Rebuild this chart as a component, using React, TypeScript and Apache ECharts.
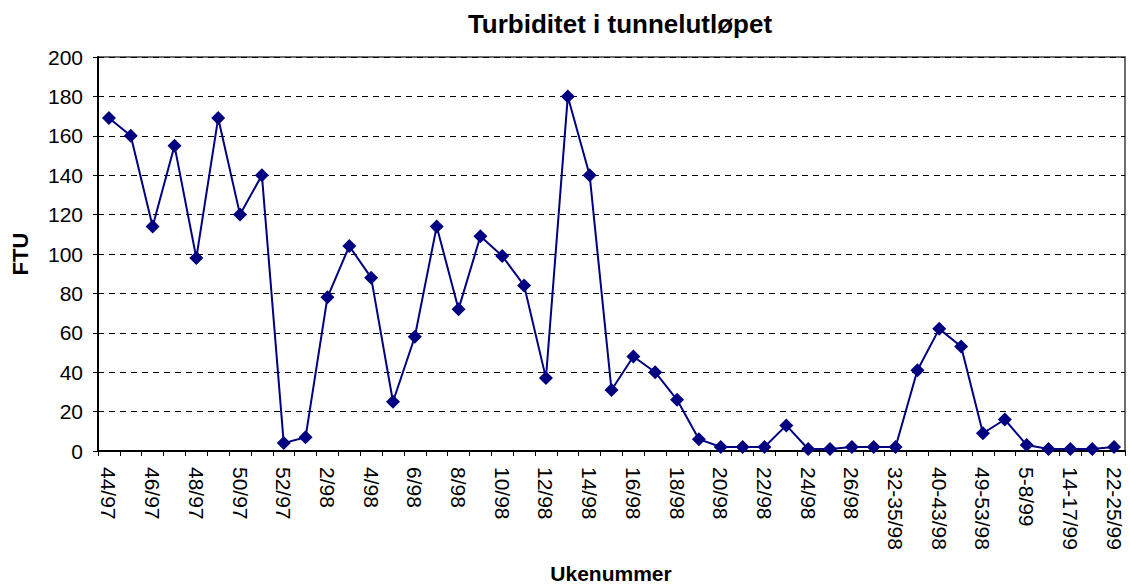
import React, { useEffect, useRef } from "react";
import * as echarts from "echarts";

const categories: string[] = [
  "44/97", "45/97", "46/97", "47/97", "48/97", "49/97", "50/97", "51/97", "52/97", "53/97",
  "2/98", "3/98", "4/98", "5/98", "6/98", "7/98", "8/98", "9/98", "10/98", "11/98",
  "12/98", "13/98", "14/98", "15/98", "16/98", "17/98", "18/98", "19/98", "20/98", "21/98",
  "22/98", "23/98", "24/98", "25/98", "26/98", "27-31/98", "32-35/98", "36-39/98", "40-43/98", "44-48/98",
  "49-53/98", "1-4/99", "5-8/99", "9-13/99", "14-17/99", "18-21/99", "22-25/99",
];

const ftu: number[] = [
  169, 160, 114, 155, 98, 169, 120, 140, 4, 7,
  78, 104, 88, 25, 58, 114, 72, 109, 99, 84,
  37, 180, 140, 31, 48, 40, 26, 6, 2, 2,
  2, 13, 1, 1, 2, 2, 2, 41, 62, 53,
  9, 16, 3, 1, 1, 1, 2,
];

const FONT = "'Liberation Sans', Arial, Helvetica, sans-serif";

export default function App() {
  const ref = useRef<HTMLDivElement>(null);
  useEffect(() => {
    document.body.style.margin = "0";
    if (!ref.current) return;
    const chart = echarts.init(ref.current, undefined, { renderer: "svg" });
    chart.setOption({
      animation: false,
      backgroundColor: "#ffffff",
      textStyle: { fontFamily: FONT },
      grid: {
        left: 98,
        right: 5,
        top: 57,
        bottom: 134,
        show: true,
        borderColor: "#404040",
        borderWidth: 1.5,
        backgroundColor: "transparent",
      },
      graphic: [
        {
          type: "text",
          x: 620,
          y: 23.5,
          style: {
            text: "Turbiditet i tunnelutløpet",
            font: `bold 26px ${FONT}`,
            fill: "#000",
            textAlign: "center",
            textVerticalAlign: "middle",
          },
        },
        {
          type: "text",
          x: 20,
          y: 254,
          rotation: Math.PI / 2,
          style: {
            text: "FTU",
            font: `bold 22px ${FONT}`,
            fill: "#000",
            textAlign: "center",
            textVerticalAlign: "middle",
          },
        },
        {
          type: "text",
          x: 611,
          y: 573.5,
          style: {
            text: "Ukenummer",
            font: `bold 21px ${FONT}`,
            fill: "#000",
            textAlign: "center",
            textVerticalAlign: "middle",
          },
        },
      ],
      xAxis: {
        type: "category",
        data: categories,
        boundaryGap: true,
        axisLine: { show: true, lineStyle: { color: "#000", width: 2 } },
        axisTick: { show: true, interval: 0, length: 5, lineStyle: { color: "#000", width: 1 } },
        axisLabel: {
          interval: 1,
          rotate: -90,
          margin: 16,
          color: "#000",
          fontSize: 21,
          fontFamily: FONT,
        },
        splitLine: { show: false },
      },
      yAxis: {
        type: "value",
        min: 0,
        max: 200,
        interval: 20,
        axisLine: { show: true, lineStyle: { color: "#000", width: 2 } },
        axisTick: { show: true, length: 5, lineStyle: { color: "#000", width: 1 } },
        axisLabel: { margin: 15, color: "#000", fontSize: 21, fontFamily: FONT },
        splitLine: { show: true, lineStyle: { color: "#000", width: 1, type: [6, 5] } },
      },
      series: [
        {
          type: "line",
          data: ftu,
          symbol: "diamond",
          symbolSize: 14,
          lineStyle: { color: "#000080", width: 2 },
          itemStyle: { color: "#000080" },
          showAllSymbol: true,
        },
      ],
    });
    return () => chart.dispose();
  }, []);
  return <div ref={ref} style={{ width: 1130, height: 585 }} />;
}
